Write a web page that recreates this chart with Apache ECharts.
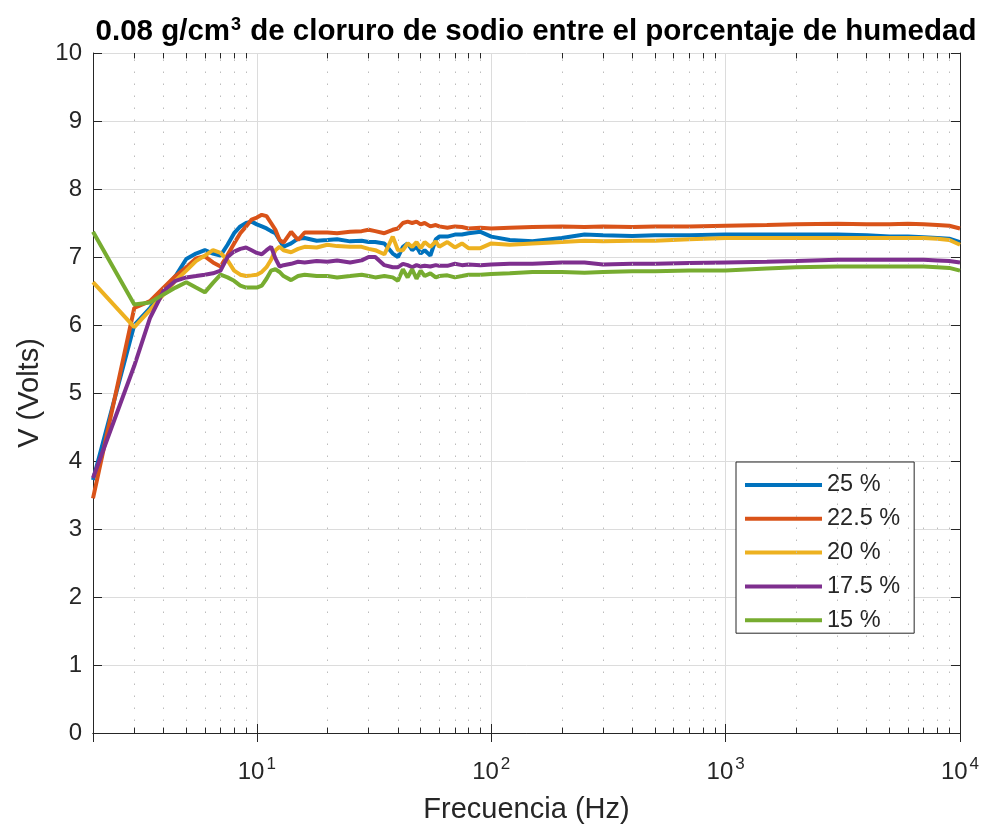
<!DOCTYPE html>
<html>
<head>
<meta charset="utf-8">
<script src="https://cdn.jsdelivr.net/npm/echarts@6.0.0/dist/echarts.min.js"></script>
<style>
  html, body { margin: 0; padding: 0; background: #fff; }
  #chart { width: 987px; height: 833px; }
</style>
</head>
<body>
<div id="chart"></div>
<script>
// frecuencias (Hz), comunes a todas las curvas
const freq = [2, 3, 3.5, 4, 4.5, 5, 5.5, 6, 6.5, 7,
  7.5, 8, 8.5, 9, 9.5, 10, 10.5, 11, 11.5, 12,
  12.5, 13, 14, 15, 16, 18, 20, 22, 25, 28,
  30, 32, 35, 38, 40, 42, 44, 46, 48, 50,
  52, 55, 58, 60, 65, 70, 75, 80, 90, 100,
  120, 150, 200, 250, 300, 400, 500, 700, 1000, 1500,
  2000, 3000, 4000, 5000, 6000, 7000, 8000, 9000, 10000];

const hum25 = [3.72, 6.0, 6.25, 6.5, 6.72, 6.97, 7.05, 7.1, 7.05, 7.02,
  7.18, 7.35, 7.45, 7.5, 7.52, 7.48, 7.45, 7.42, 7.38, 7.35,
  7.25, 7.15, 7.2, 7.27, 7.28, 7.24, 7.25, 7.26, 7.23, 7.24,
  7.22, 7.22, 7.2, 7.05, 7.0, 7.15, 7.2, 7.1, 7.15, 7.05,
  7.1, 7.02, 7.26, 7.3, 7.3, 7.33, 7.33, 7.35, 7.37, 7.3,
  7.25, 7.23, 7.28, 7.33, 7.32, 7.31, 7.32, 7.32, 7.33, 7.33,
  7.33, 7.33, 7.32, 7.3, 7.3, 7.29, 7.28, 7.27, 7.22];

const hum225 = [3.45, 6.25, 6.35, 6.55, 6.72, 6.85, 6.98, 7.01, 6.92, 6.86,
  7.03, 7.2, 7.35, 7.45, 7.55, 7.58, 7.62, 7.6, 7.5, 7.4,
  7.25, 7.21, 7.37, 7.25, 7.36, 7.36, 7.36, 7.35, 7.37, 7.38,
  7.4, 7.38, 7.35, 7.4, 7.42, 7.5, 7.52, 7.5, 7.52, 7.48,
  7.5, 7.45, 7.47, 7.45, 7.43, 7.45, 7.44, 7.42, 7.43, 7.42,
  7.43, 7.44, 7.45, 7.44, 7.45, 7.44, 7.45, 7.45, 7.46, 7.47,
  7.48, 7.49, 7.48, 7.48, 7.49, 7.48, 7.47, 7.46, 7.42];

const hum20 = [6.63, 5.97, 6.22, 6.45, 6.65, 6.8, 6.94, 7.02, 7.1, 7.06,
  6.95, 6.8, 6.74, 6.72, 6.73, 6.74, 6.78, 6.85, 6.96, 7.1,
  7.15, 7.1, 7.07, 7.12, 7.15, 7.14, 7.18, 7.16, 7.15, 7.15,
  7.12, 7.1, 7.04, 7.3, 7.1, 7.1, 7.2, 7.15, 7.22, 7.13,
  7.22, 7.15, 7.23, 7.15, 7.22, 7.14, 7.2, 7.13, 7.13, 7.2,
  7.18, 7.2, 7.22, 7.24, 7.23, 7.24, 7.24, 7.26, 7.28, 7.28,
  7.28, 7.28, 7.28, 7.28, 7.28, 7.28, 7.27, 7.25, 7.18];

const hum175 = [3.75, 5.4, 6.1, 6.5, 6.65, 6.7, 6.72, 6.74, 6.76, 6.8,
  7.0, 7.08, 7.12, 7.14, 7.1, 7.06, 7.04, 7.1, 7.15, 6.98,
  6.86, 6.88, 6.9, 6.93, 6.92, 6.94, 6.93, 6.95, 6.92, 6.95,
  7.0, 7.0, 6.88, 6.85, 6.85, 6.9, 6.88, 6.85, 6.88, 6.86,
  6.87, 6.86, 6.88, 6.87, 6.87, 6.9, 6.88, 6.89, 6.88, 6.89,
  6.9, 6.9, 6.92, 6.92, 6.89, 6.9, 6.9, 6.91, 6.92, 6.93,
  6.94, 6.96, 6.96, 6.96, 6.96, 6.96, 6.95, 6.94, 6.92];

const hum15 = [7.37, 6.3, 6.33, 6.45, 6.55, 6.63, 6.55, 6.48, 6.62, 6.74,
  6.7, 6.65, 6.58, 6.55, 6.55, 6.55, 6.58, 6.68, 6.8, 6.82,
  6.78, 6.72, 6.66, 6.72, 6.74, 6.72, 6.72, 6.7, 6.72, 6.74,
  6.72, 6.7, 6.72, 6.7, 6.65, 6.82, 6.7, 6.82, 6.68, 6.8,
  6.72, 6.76, 6.7, 6.72, 6.73, 6.7, 6.72, 6.74, 6.74, 6.75,
  6.76, 6.78, 6.78, 6.77, 6.78, 6.79, 6.79, 6.8, 6.8, 6.83,
  6.85, 6.86, 6.86, 6.86, 6.86, 6.86, 6.85, 6.84, 6.8];

const seriesNames = ['25 %', '22.5 %', '20 %', '17.5 %', '15 %'];
const seriesValues = [hum25, hum225, hum20, hum175, hum15];
const colors = ['#0072BD', '#D95319', '#EDB120', '#7E2F8E', '#77AC30'];

// posiciones de las marcas menores del eje logaritmico
const minorTicks = [];
[1, 10, 100, 1000].forEach(function (d) {
  for (let k = 2; k <= 9; k++) {
    if (k * d > 2) minorTicks.push(k * d);
  }
});

const font = '"Liberation Sans", Arial, Helvetica, sans-serif';
const ink = '#262626';

let chart = echarts.init(document.getElementById('chart'));

let lines = seriesNames.map(function (name, s) {
  return {
    name: name,
    type: 'line',
    symbol: 'none',
    smooth: false,
    color: colors[s],
    lineStyle: { width: 4, color: colors[s] },
    data: freq.map(function (f, i) { return [f, seriesValues[s][i]]; })
  };
});

// rejilla menor punteada y marcas menores (como en MATLAB)
let gridMarks = {
  name: 'grid',
  type: 'line',
  data: [],
  silent: true,
  markLine: {
    silent: true,
    symbol: ['none', 'none'],
    label: { show: false },
    animation: false,
    lineStyle: { color: '#bdbdbd', width: 1, type: [1.5, 10.5] },
    data: minorTicks.map(function (v) { return { xAxis: v }; })
  }
};
let tickMarks = {
  name: 'ticks',
  type: 'line',
  data: [],
  silent: true,
  markLine: {
    silent: true,
    symbol: ['none', 'none'],
    label: { show: false },
    animation: false,
    lineStyle: { color: ink, width: 1, type: 'solid' },
    data: minorTicks.map(function (v) { return [{ coord: [v, 0] }, { coord: [v, 0.08] }]; })
      .concat(minorTicks.map(function (v) { return [{ coord: [v, 10] }, { coord: [v, 9.92] }]; }))
  }
};

chart.setOption({
  animation: false,
  backgroundColor: '#fff',
  textStyle: { fontFamily: font },
  title: {
    text: '{a|0.08 g/cm}{s|3}{a| de cloruro de sodio entre el porcentaje de humedad}',
    left: 531,
    textAlign: 'center',
    top: 11,
    textStyle: {
      rich: {
        a: { fontSize: 29.5, fontWeight: 'bold', color: '#000', fontFamily: font, verticalAlign: 'bottom' },
        s: { fontSize: 18, fontWeight: 'bold', color: '#000', fontFamily: font, verticalAlign: 'bottom', padding: [0, 1, 13, 1] }
      }
    }
  },
  legend: {
    data: seriesNames,
    orient: 'vertical',
    left: 736,
    top: 462,
    icon: 'rect',
    itemWidth: 77,
    itemHeight: 4,
    itemGap: 9.8,
    padding: [11, 14, 1, 9],
    backgroundColor: '#fff',
    borderColor: ink,
    borderWidth: 1,
    borderRadius: 0,
    textStyle: { fontSize: 23.5, color: ink, fontFamily: font }
  },
  grid: { left: 93, right: 27, top: 53, bottom: 100, containLabel: false },
  xAxis: [{
    type: 'log',
    logBase: 10,
    min: 2,
    max: 10000,
    name: 'Frecuencia (Hz)',
    nameLocation: 'middle',
    nameGap: 62,
    nameTextStyle: { fontSize: 29, color: ink, fontFamily: font },
    axisLine: { lineStyle: { color: ink, width: 1 } },
    axisTick: { inside: true, length: 9, lineStyle: { color: ink } },
    splitLine: { show: true, lineStyle: { color: '#dcdcdc', width: 1 } },
    axisLabel: {
      margin: 23,
      formatter: function (v) {
        let e = Math.round(Math.log10(v));
        if (Math.abs(Math.pow(10, e) - v) < 1e-6 * v) return '{b|10}{s|' + e + '}';
        return '';
      },
      rich: {
        b: { fontSize: 24, color: ink, fontFamily: font, verticalAlign: 'bottom' },
        s: { fontSize: 17, color: ink, fontFamily: font, verticalAlign: 'bottom', padding: [0, 0, 11, 2] }
      }
    }
  }, {
    type: 'log',
    logBase: 10,
    min: 2,
    max: 10000,
    position: 'top',
    axisLine: { lineStyle: { color: ink, width: 1 } },
    axisTick: { inside: true, length: 9, lineStyle: { color: ink } },
    splitLine: { show: false },
    axisLabel: { show: false }
  }],
  yAxis: [{
    type: 'value',
    min: 0,
    max: 10,
    interval: 1,
    name: 'V (Volts)',
    nameLocation: 'middle',
    nameGap: 46,
    nameTextStyle: { fontSize: 29, color: ink, fontFamily: font },
    axisLine: { show: true, lineStyle: { color: ink, width: 1 } },
    axisTick: { show: true, inside: true, length: 9, lineStyle: { color: ink } },
    splitLine: { show: true, lineStyle: { color: '#dcdcdc', width: 1 } },
    axisLabel: { fontSize: 24, color: ink, margin: 11, fontFamily: font }
  }, {
    type: 'value',
    min: 0,
    max: 10,
    interval: 1,
    position: 'right',
    axisLine: { show: true, lineStyle: { color: ink, width: 1 } },
    axisTick: { show: true, inside: true, length: 9, lineStyle: { color: ink } },
    splitLine: { show: false },
    axisLabel: { show: false }
  }],
  series: [gridMarks, tickMarks].concat(lines)
});
</script>
</body>
</html>
